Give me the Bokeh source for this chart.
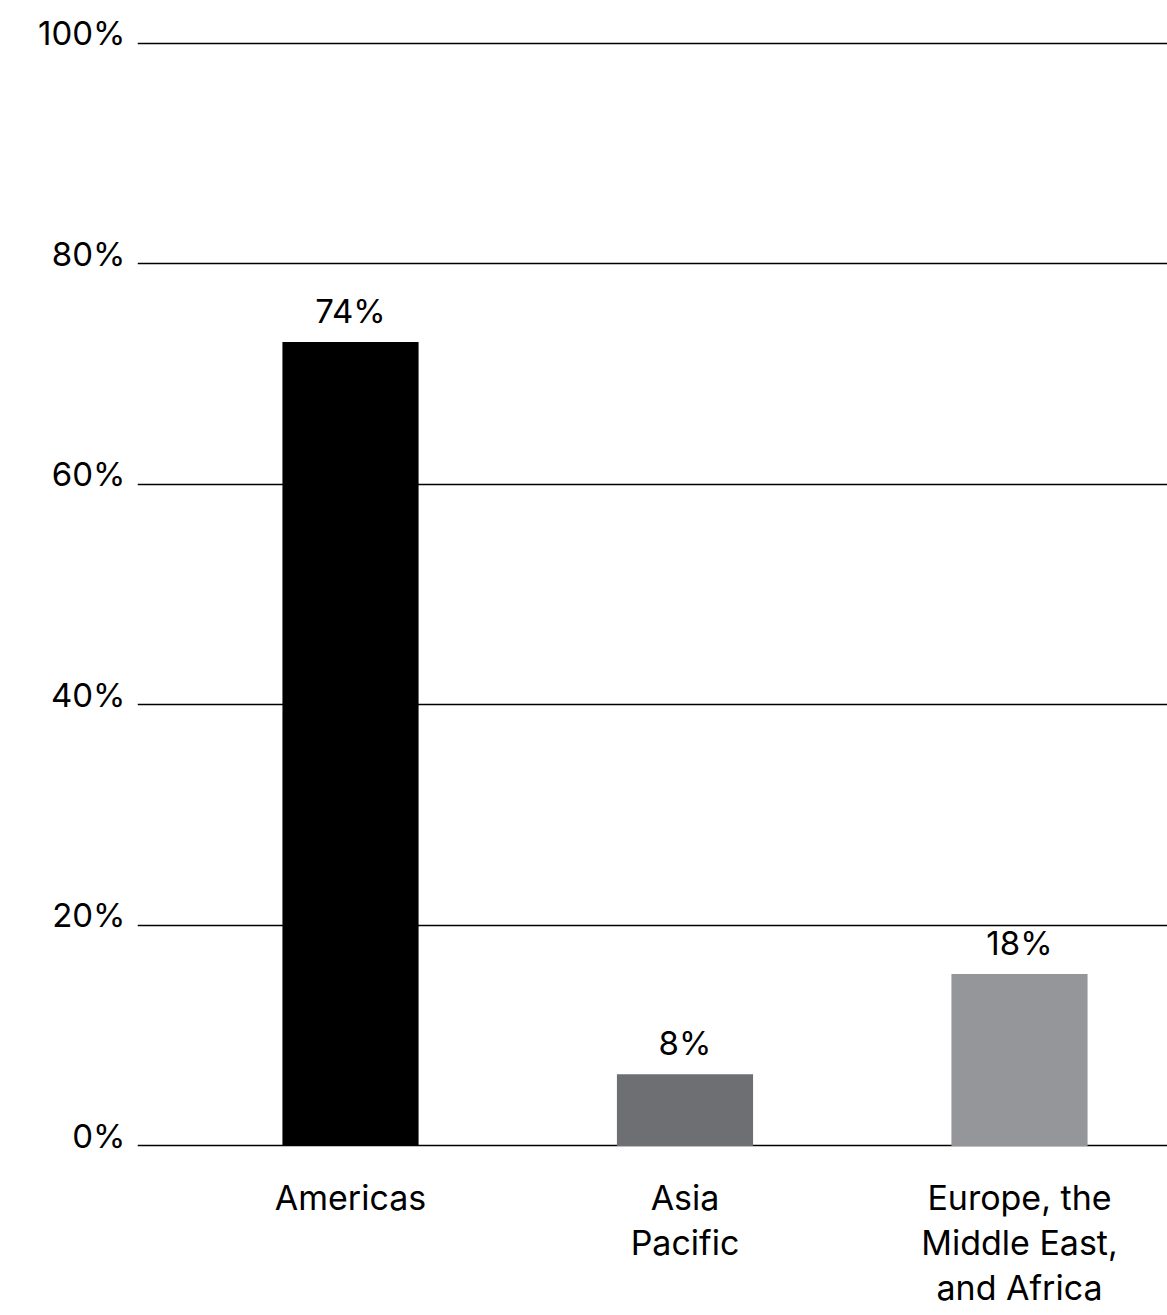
from bokeh.plotting import figure
from bokeh.models import Range1d, FixedTicker, ColumnDataSource
from bokeh.core.properties import value
from bokeh.embed import file_html
from bokeh.resources import INLINE

categories = ["Americas", "Asia\nPacific", "Europe, the\nMiddle East,\nand Africa"]
bar_values = [72.9, 6.5, 15.6]
bar_labels = ["74%", "8%", "18%"]
bar_colors = ["#000000", "#6e6f73", "#95969a"]
y_ticks = [0, 20, 40, 60, 80, 100]
y_tick_labels = ["0%", "20%", "40%", "60%", "80%", "100%"]

FONT = "Inter"
xs = list(range(len(categories)))

p = figure(width=1167, height=1315, output_backend="svg", toolbar_location=None,
           x_range=Range1d(-0.6368, 2.4425), y_range=Range1d(-0.5, 100.5),
           min_border_left=137, min_border_right=0, min_border_top=37,
           min_border_bottom=164)
p.outline_line_color = None
p.background_fill_color = "white"
p.border_fill_color = "white"

src = ColumnDataSource(dict(x=xs, top=bar_values, label=bar_labels, color=bar_colors))
p.vbar(x="x", top="top", bottom=0, width=0.407, fill_color="color", line_color=None, source=src)
p.text(x="x", y="top", text="label", source=src, text_align="center",
       text_baseline="alphabetic", y_offset=-31, text_font=value(FONT),
       text_font_size="33px", text_color="#000000")

# y axis (a trailing blank line lifts each label slightly above its gridline)
p.yaxis.ticker = FixedTicker(ticks=y_ticks)
p.yaxis.major_label_overrides = {t: l + "\n" for t, l in zip(y_ticks, y_tick_labels)}
p.yaxis.axis_line_color = None
p.yaxis.major_tick_line_color = None
p.yaxis.minor_tick_line_color = None
p.yaxis.major_label_standoff = 6
p.yaxis.major_label_text_font = FONT
p.yaxis.major_label_text_font_size = "33px"
p.yaxis.major_label_text_color = "#000000"
p.yaxis.major_label_text_line_height = 0.5

# x axis
p.xaxis.ticker = FixedTicker(ticks=xs)
p.xaxis.major_label_overrides = {x: c for x, c in zip(xs, categories)}
p.xaxis.axis_line_color = None
p.xaxis.major_tick_line_color = None
p.xaxis.minor_tick_line_color = None
p.xaxis.major_label_standoff = 19
p.xaxis.major_label_text_font = FONT
p.xaxis.major_label_text_font_size = "34px"
p.xaxis.major_label_text_color = "#000000"
p.xaxis.major_label_text_line_height = 1.1

p.xgrid.grid_line_color = None
p.ygrid.ticker = FixedTicker(ticks=y_ticks)
p.ygrid.grid_line_color = "#000000"
p.ygrid.grid_line_width = 1.6

open("out.html", "w").write(file_html(p, INLINE))
